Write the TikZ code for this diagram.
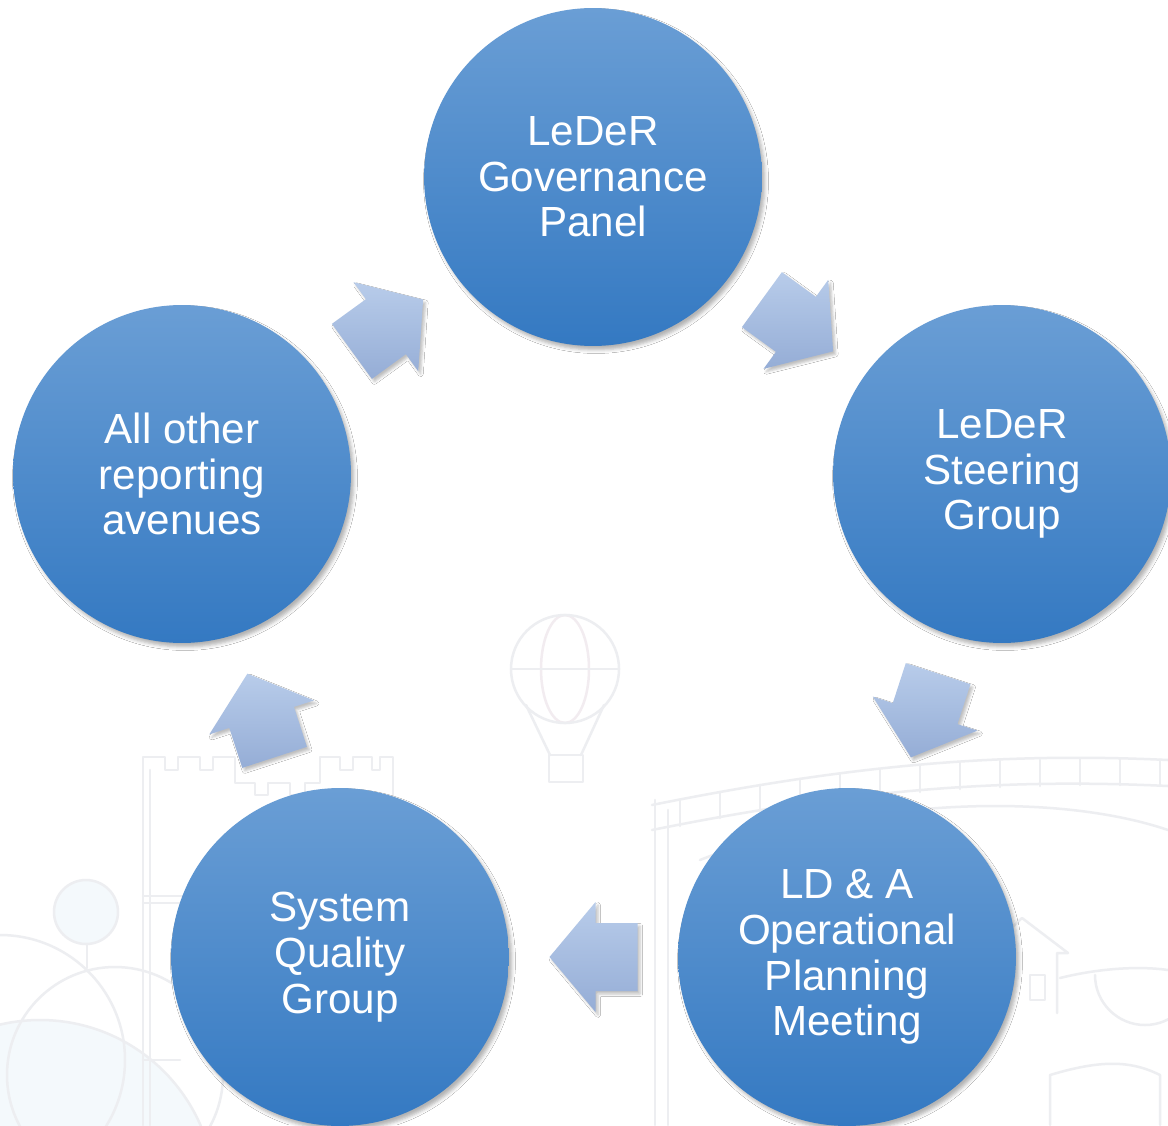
\documentclass[tikz,border=0pt]{standalone}
\usepackage{fontspec}
\setmainfont{Liberation Sans}
\usetikzlibrary{calc,shadows.blur}

\definecolor{discTop}{HTML}{6A9ED5}
\definecolor{discBot}{HTML}{3479C2}
\definecolor{arrTop}{HTML}{B8CCEA}
\definecolor{arrBot}{HTML}{95ADD6}
\definecolor{artLine}{HTML}{EDEEF1}
\definecolor{artPink}{HTML}{F2ECF0}
\definecolor{artFill}{HTML}{F4F9FC}

\tikzset{
  disc/.style={circle, minimum size=6.76cm, inner sep=0pt,
    top color=discTop, bottom color=discBot, text=white, align=center,
    font=\fontsize{24}{26}\selectfont,
    blur shadow={shadow xshift=0.06cm, shadow yshift=-0.08cm,
      shadow blur radius=0.07cm, shadow opacity=30}},
  flowarrow/.style={top color=arrTop, bottom color=arrBot,
    blur shadow={shadow xshift=0.05cm, shadow yshift=-0.06cm,
      shadow blur radius=0.05cm, shadow opacity=25}},
  art/.style={draw=artLine, line width=0.05cm, line join=round, line cap=round}
}

\begin{document}
\begin{tikzpicture}[x=0.02cm, y=-0.02cm]
  \useasboundingbox (0,0) rectangle (1168,1125);
  \fill[white] (0,0) rectangle (1168,1125);

  % faint town scenery behind the cycle
  \begin{scope}
    \clip (0,0) rectangle (1168,1125);
    % hills and tree, lower left
    \fill[artFill] (40,1195) circle [radius=175];
    \draw[art] (0,1060) circle [radius=125];
    \draw[art] (115,1075) circle [radius=108];
    \draw[art] (40,1195) circle [radius=175];
    \draw[art] (87,945) -- (87,968);
    \fill[artFill] (86,912) circle [radius=32];
    \draw[art] (86,912) circle [radius=32];
    % castle
    \draw[art] (143,1125) -- (143,757) -- (165,757) -- (165,770) -- (178,770) -- (178,757)
      -- (200,757) -- (200,770) -- (213,770) -- (213,757) -- (235,757) -- (235,783)
      -- (255,783) -- (255,795) -- (268,795) -- (268,783) -- (290,783) -- (290,795)
      -- (305,795) -- (305,783) -- (320,783) -- (320,757) -- (340,757) -- (340,770)
      -- (353,770) -- (353,757) -- (372,757) -- (372,770) -- (380,770) -- (380,757)
      -- (393,757) -- (393,900);
    \draw[art] (150,770) -- (150,1125);
    \draw[art] (143,896) -- (260,896);
    \draw[art] (143,903) -- (260,903);
    \draw[art] (143,1060) -- (180,1060);
    % balloon
    \draw[art, draw=artPink] (565,669) ellipse [x radius=24, y radius=54];
    \draw[art] (565,669) circle [radius=54];
    \draw[art] (511,669) -- (619,669);
    \draw[art] (526,705) -- (550,755);
    \draw[art] (604,705) -- (581,755);
    \draw[art] (549,755) rectangle (583,782);
    % bridge
    \draw[art] (652,805) .. controls (850,765) and (1000,752) .. (1168,760);
    \draw[art] (652,830) .. controls (850,790) and (1000,778) .. (1168,786);
    \draw[art] (700,860) .. controls (850,800) and (1050,790) .. (1168,830);
    \foreach \px/\top/\bot in {680/800/826, 720/792/818, 760/785/811, 800/779/805,
        840/774/800, 880/770/796, 920/766/792, 960/763/789, 1000/761/787,
        1040/760/786, 1080/759/785, 1120/759/785, 1160/760/786}
      \draw[art] (\px,\top) -- (\px,\bot);
    \draw[art] (655,800) -- (655,1125);
    \draw[art] (668,810) -- (668,1125);
    % house, dome and hill, lower right
    \draw[art] (985,1012) -- (985,952) -- (1022,918) -- (1068,953) -- (1057,953) -- (1057,1013);
    \draw[art] (1030,975) rectangle (1045,1000);
    \draw[art] (1095,975) arc [start angle=180, end angle=0, radius=50];
    \draw[art] (1060,978) .. controls (1100,968) and (1140,966) .. (1168,970);
    \draw[art] (1050,1125) -- (1050,1075) .. controls (1100,1060) and (1130,1060) .. (1160,1075) -- (1160,1125);
  \end{scope}

  % the five bodies of the reporting cycle
  \node[disc] (gov)   at (593,177) {LeDeR\\Governance\\Panel};
  \node[disc] (steer) at (1002,474) {LeDeR\\Steering\\Group};
  \node[disc] (ops)   at (847,957) {LD \& A\\Operational\\Planning\\Meeting};
  \node[disc] (sqg)   at (340,957) {System\\Quality\\Group};
  \node[disc] (other) at (182,474) {All other\\reporting\\avenues};

  % block arrows half way between neighbouring bodies
  \foreach \a/\b/\ang in {gov/steer/-36, steer/ops/-108, ops/sqg/180, sqg/other/108, other/gov/36}
    \shade[flowarrow, shift={($(\a)!0.5!(\b)$)}, rotate=\ang]
      (-44,-34) -- (-2,-34) -- (-2,-55) -- (44,0) -- (-2,55) -- (-2,34) -- (-44,34) -- cycle;
\end{tikzpicture}
\end{document}
